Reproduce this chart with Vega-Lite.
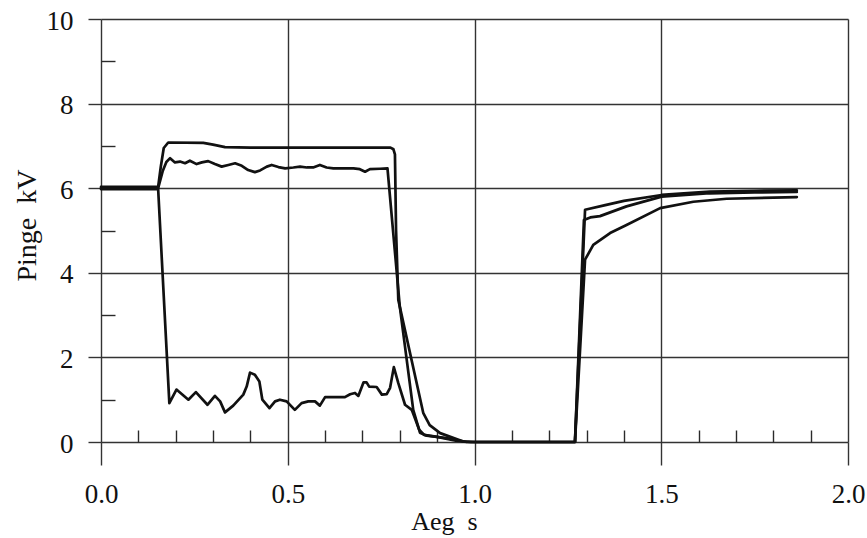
{
  "$schema": "https://vega.github.io/schema/vega-lite/v6.json",
  "width": 747,
  "height": 423,
  "autosize": "none",
  "padding": {"left": 101, "top": 19, "right": 19, "bottom": 96},
  "background": "white",
  "config": {"view": {"stroke": null}, "font": "Liberation Serif"},
  "data": {"values": [
    {"s": "A", "t": 0, "v": 6.03}, {"s": "A", "t": 0.153, "v": 6.03}, {"s": "A", "t": 0.16, "v": 6.5}, {"s": "A", "t": 0.168, "v": 6.95}, {"s": "A", "t": 0.18, "v": 7.08}, {"s": "A", "t": 0.274, "v": 7.07}, {"s": "A", "t": 0.3, "v": 7.03}, {"s": "A", "t": 0.332, "v": 6.97}, {"s": "A", "t": 0.4, "v": 6.96}, {"s": "A", "t": 0.6, "v": 6.96}, {"s": "A", "t": 0.775, "v": 6.96}, {"s": "A", "t": 0.783, "v": 6.92}, {"s": "A", "t": 0.787, "v": 6.8}, {"s": "A", "t": 0.79, "v": 5.0}, {"s": "A", "t": 0.796, "v": 3.36}, {"s": "A", "t": 0.863, "v": 0.68}, {"s": "A", "t": 0.88, "v": 0.4}, {"s": "A", "t": 0.908, "v": 0.21}, {"s": "A", "t": 0.97, "v": 0.01}, {"s": "A", "t": 1.0, "v": 0}, {"s": "A", "t": 1.269, "v": 0}, {"s": "A", "t": 1.296, "v": 5.49}, {"s": "A", "t": 1.35, "v": 5.6}, {"s": "A", "t": 1.4, "v": 5.7}, {"s": "A", "t": 1.501, "v": 5.84}, {"s": "A", "t": 1.63, "v": 5.92}, {"s": "A", "t": 1.75, "v": 5.94}, {"s": "A", "t": 1.863, "v": 5.95},
    {"s": "B", "t": 0, "v": 6.0}, {"s": "B", "t": 0.153, "v": 6.0}, {"s": "B", "t": 0.165, "v": 6.4}, {"s": "B", "t": 0.175, "v": 6.62}, {"s": "B", "t": 0.185, "v": 6.71}, {"s": "B", "t": 0.198, "v": 6.61}, {"s": "B", "t": 0.2115, "v": 6.63}, {"s": "B", "t": 0.225, "v": 6.59}, {"s": "B", "t": 0.238, "v": 6.65}, {"s": "B", "t": 0.256, "v": 6.57}, {"s": "B", "t": 0.27, "v": 6.61}, {"s": "B", "t": 0.287, "v": 6.64}, {"s": "B", "t": 0.305, "v": 6.57}, {"s": "B", "t": 0.323, "v": 6.51}, {"s": "B", "t": 0.341, "v": 6.55}, {"s": "B", "t": 0.359, "v": 6.59}, {"s": "B", "t": 0.377, "v": 6.53}, {"s": "B", "t": 0.394, "v": 6.43}, {"s": "B", "t": 0.412, "v": 6.38}, {"s": "B", "t": 0.426, "v": 6.42}, {"s": "B", "t": 0.444, "v": 6.51}, {"s": "B", "t": 0.457, "v": 6.55}, {"s": "B", "t": 0.475, "v": 6.5}, {"s": "B", "t": 0.493, "v": 6.47}, {"s": "B", "t": 0.515, "v": 6.49}, {"s": "B", "t": 0.533, "v": 6.51}, {"s": "B", "t": 0.551, "v": 6.49}, {"s": "B", "t": 0.568, "v": 6.49}, {"s": "B", "t": 0.586, "v": 6.55}, {"s": "B", "t": 0.604, "v": 6.49}, {"s": "B", "t": 0.622, "v": 6.47}, {"s": "B", "t": 0.676, "v": 6.47}, {"s": "B", "t": 0.693, "v": 6.45}, {"s": "B", "t": 0.707, "v": 6.39}, {"s": "B", "t": 0.72, "v": 6.45}, {"s": "B", "t": 0.747, "v": 6.46}, {"s": "B", "t": 0.767, "v": 6.47}, {"s": "B", "t": 0.8, "v": 3.2}, {"s": "B", "t": 0.836, "v": 0.76}, {"s": "B", "t": 0.854, "v": 0.22}, {"s": "B", "t": 0.872, "v": 0.15}, {"s": "B", "t": 0.925, "v": 0.09}, {"s": "B", "t": 0.979, "v": 0}, {"s": "B", "t": 1.269, "v": 0}, {"s": "B", "t": 1.293, "v": 5.25}, {"s": "B", "t": 1.31, "v": 5.31}, {"s": "B", "t": 1.336, "v": 5.34}, {"s": "B", "t": 1.407, "v": 5.57}, {"s": "B", "t": 1.501, "v": 5.8}, {"s": "B", "t": 1.63, "v": 5.88}, {"s": "B", "t": 1.75, "v": 5.9}, {"s": "B", "t": 1.863, "v": 5.91},
    {"s": "C", "t": 0, "v": 5.98}, {"s": "C", "t": 0.153, "v": 5.98}, {"s": "C", "t": 0.183, "v": 0.92}, {"s": "C", "t": 0.202, "v": 1.24}, {"s": "C", "t": 0.234, "v": 1.0}, {"s": "C", "t": 0.254, "v": 1.18}, {"s": "C", "t": 0.285, "v": 0.88}, {"s": "C", "t": 0.305, "v": 1.09}, {"s": "C", "t": 0.319, "v": 0.96}, {"s": "C", "t": 0.332, "v": 0.7}, {"s": "C", "t": 0.354, "v": 0.86}, {"s": "C", "t": 0.381, "v": 1.12}, {"s": "C", "t": 0.39, "v": 1.31}, {"s": "C", "t": 0.399, "v": 1.64}, {"s": "C", "t": 0.412, "v": 1.59}, {"s": "C", "t": 0.424, "v": 1.43}, {"s": "C", "t": 0.432, "v": 1.0}, {"s": "C", "t": 0.451, "v": 0.8}, {"s": "C", "t": 0.466, "v": 0.96}, {"s": "C", "t": 0.479, "v": 1.0}, {"s": "C", "t": 0.497, "v": 0.96}, {"s": "C", "t": 0.519, "v": 0.76}, {"s": "C", "t": 0.537, "v": 0.92}, {"s": "C", "t": 0.555, "v": 0.96}, {"s": "C", "t": 0.573, "v": 0.96}, {"s": "C", "t": 0.586, "v": 0.86}, {"s": "C", "t": 0.6, "v": 1.06}, {"s": "C", "t": 0.653, "v": 1.06}, {"s": "C", "t": 0.667, "v": 1.13}, {"s": "C", "t": 0.68, "v": 1.16}, {"s": "C", "t": 0.689, "v": 1.09}, {"s": "C", "t": 0.703, "v": 1.41}, {"s": "C", "t": 0.711, "v": 1.41}, {"s": "C", "t": 0.718, "v": 1.31}, {"s": "C", "t": 0.738, "v": 1.3}, {"s": "C", "t": 0.752, "v": 1.12}, {"s": "C", "t": 0.765, "v": 1.13}, {"s": "C", "t": 0.774, "v": 1.28}, {"s": "C", "t": 0.784, "v": 1.77}, {"s": "C", "t": 0.796, "v": 1.39}, {"s": "C", "t": 0.814, "v": 0.88}, {"s": "C", "t": 0.832, "v": 0.76}, {"s": "C", "t": 0.852, "v": 0.29}, {"s": "C", "t": 0.865, "v": 0.17}, {"s": "C", "t": 0.9, "v": 0.12}, {"s": "C", "t": 0.95, "v": 0.03}, {"s": "C", "t": 0.99, "v": 0}, {"s": "C", "t": 1.269, "v": 0}, {"s": "C", "t": 1.296, "v": 4.31}, {"s": "C", "t": 1.318, "v": 4.66}, {"s": "C", "t": 1.363, "v": 4.94}, {"s": "C", "t": 1.407, "v": 5.13}, {"s": "C", "t": 1.497, "v": 5.53}, {"s": "C", "t": 1.586, "v": 5.68}, {"s": "C", "t": 1.675, "v": 5.75}, {"s": "C", "t": 1.863, "v": 5.79}
  ]},
  "resolve": {"axis": {"x": "independent", "y": "independent"}},
  "layer": [
    {
      "mark": {"type": "line", "opacity": 0},
      "encoding": {
        "x": {"field": "t", "type": "quantitative", "scale": {"domain": [0, 2], "nice": false},
          "axis": {"orient": "bottom", "values": [0.1,0.2,0.3,0.4,0.6,0.7,0.8,0.9,1.1,1.2,1.3,1.4,1.6,1.7,1.8,1.9], "labels": false, "grid": false, "domain": false, "tickSize": -12, "tickColor": "#2a2a2a", "tickWidth": 1.4, "title": null}},
        "y": {"field": "v", "type": "quantitative", "scale": {"domain": [0, 10], "nice": false},
          "axis": {"orient": "left", "values": [1,3,5,7,9], "labels": false, "grid": false, "domain": false, "tickSize": -14, "tickColor": "#2a2a2a", "tickWidth": 1.4, "title": null}},
        "detail": {"field": "s"}
      }
    },
    {
      "mark": {"type": "line", "color": "#111111", "strokeWidth": 2.7, "strokeJoin": "round", "strokeCap": "round"},
      "encoding": {
        "x": {"field": "t", "type": "quantitative", "scale": {"domain": [0, 2], "nice": false},
          "axis": {"orient": "bottom", "values": [0, 0.5, 1, 1.5, 2], "format": ".1f", "grid": true, "gridColor": "#333333", "gridWidth": 1.4, "gridOpacity": 1, "domain": false, "tickSize": 23, "tickColor": "#333333", "tickWidth": 1.4, "labelFont": "Liberation Serif", "labelFontSize": 27, "labelColor": "#111111", "labelPadding": 16, "labelFlush": false,
            "title": "Aeg\u00a0\u00a0s", "titleFont": "Liberation Serif", "titleFontSize": 26, "titleFontWeight": "normal", "titleColor": "#111111", "titleX": 343, "titleY": 87, "titleBaseline": "alphabetic", "titleAlign": "center"}},
        "y": {"field": "v", "type": "quantitative", "scale": {"domain": [0, 10], "nice": false},
          "axis": {"orient": "left", "values": [0, 2, 4, 6, 8, 10], "grid": true, "gridColor": "#333333", "gridWidth": 1.4, "gridOpacity": 1, "domain": false, "tickSize": 13, "tickColor": "#333333", "tickWidth": 1.4, "labelFont": "Liberation Serif", "labelFontSize": 27, "labelColor": "#111111", "labelPadding": 15, "labelOffset": 2, "labelFlush": false,
            "title": "Pinge\u00a0\u00a0kV", "titleFont": "Liberation Serif", "titleFontSize": 28, "titleFontWeight": "normal", "titleColor": "#111111", "titleX": -66, "titleY": 206, "titleBaseline": "alphabetic", "titleAlign": "center", "titleAngle": -90}},
        "detail": {"field": "s"}
      }
    }
  ]
}
